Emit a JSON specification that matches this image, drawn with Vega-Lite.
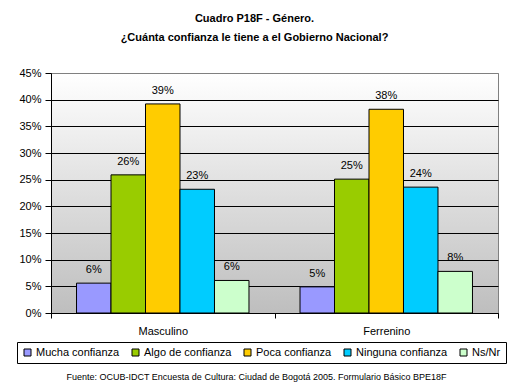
{
  "$schema": "https://vega.github.io/schema/vega-lite/v6.json",
  "width": 447,
  "height": 240,
  "autosize": {"type": "none"},
  "padding": {"left": 51, "top": 73, "right": 17, "bottom": 78},
  "background": "white",
  "title": {
    "text": ["Cuadro P18F - Género.", "¿Cuánta confianza le tiene a el Gobierno Nacional?"],
    "font": "Liberation Sans",
    "fontSize": 11,
    "fontWeight": "bold",
    "color": "black",
    "anchor": "middle",
    "dx": -20,
    "offset": 24,
    "lineHeight": 19
  },
  "data": {
    "values": [
      {"genero": "Masculino", "respuesta": "Mucha confianza", "valor": 0.056},
      {"genero": "Masculino", "respuesta": "Algo de confianza", "valor": 0.259},
      {"genero": "Masculino", "respuesta": "Poca confianza", "valor": 0.392},
      {"genero": "Masculino", "respuesta": "Ninguna confianza", "valor": 0.232},
      {"genero": "Masculino", "respuesta": "Ns/Nr", "valor": 0.061},
      {"genero": "Ferrenino", "respuesta": "Mucha confianza", "valor": 0.049},
      {"genero": "Ferrenino", "respuesta": "Algo de confianza", "valor": 0.251},
      {"genero": "Ferrenino", "respuesta": "Poca confianza", "valor": 0.382},
      {"genero": "Ferrenino", "respuesta": "Ninguna confianza", "valor": 0.236},
      {"genero": "Ferrenino", "respuesta": "Ns/Nr", "valor": 0.078}
    ]
  },
  "encoding": {
    "x": {
      "field": "genero",
      "type": "nominal",
      "sort": ["Masculino", "Ferrenino"],
      "scale": {"paddingInner": 0, "paddingOuter": 0},
      "axis": {
        "labelAngle": 0,
        "labelFont": "Liberation Sans",
        "labelFontSize": 11,
        "labelColor": "black",
        "labelPadding": 7,
        "tickBand": "extent",
        "tickSize": 5,
        "tickColor": "black",
        "domainColor": "black",
        "grid": false,
        "title": "Fuente: OCUB-IDCT Encuesta de Cultura: Ciudad de Bogotá 2005. Formulario Básico BPE18F",
        "titleFont": "Liberation Sans",
        "titleFontSize": 9,
        "titleFontWeight": "normal",
        "titleColor": "black",
        "titleX": 205,
        "titleY": 63,
        "titleAlign": "center",
        "titleBaseline": "middle"
      }
    },
    "xOffset": {
      "field": "respuesta",
      "type": "nominal",
      "sort": ["Mucha confianza", "Algo de confianza", "Poca confianza", "Ninguna confianza", "Ns/Nr"],
      "scale": {"paddingInner": 0, "paddingOuter": 0.74}
    },
    "y": {
      "field": "valor",
      "type": "quantitative",
      "scale": {"domain": [0, 0.45], "nice": false},
      "axis": {
        "title": null,
        "format": ".0%",
        "values": [0, 0.05, 0.1, 0.15, 0.2, 0.25, 0.3, 0.35, 0.4, 0.45],
        "labelFont": "Liberation Sans",
        "labelFontSize": 11,
        "labelColor": "black",
        "labelPadding": 4,
        "tickSize": 6,
        "tickColor": "black",
        "domainColor": "black",
        "grid": true,
        "gridColor": {"condition": {"test": "datum.value >= 0.449", "value": "#808080"}, "value": "black"},
        "gridOpacity": 1,
        "gridWidth": 1
      }
    }
  },
  "layer": [
    {
      "mark": {"type": "bar", "stroke": "black", "strokeWidth": 1},
      "encoding": {
        "color": {
          "field": "respuesta",
          "type": "nominal",
          "sort": ["Mucha confianza", "Algo de confianza", "Poca confianza", "Ninguna confianza", "Ns/Nr"],
          "scale": {
            "domain": ["Mucha confianza", "Algo de confianza", "Poca confianza", "Ninguna confianza", "Ns/Nr"],
            "range": ["#9999FF", "#99CC00", "#FFCC00", "#00CCFF", "#CCFFCC"]
          },
          "legend": {
            "orient": "none",
            "legendX": -34,
            "legendY": 269,
            "direction": "horizontal",
            "columns": 5,
            "title": null,
            "symbolType": "square",
            "symbolSize": 49,
            "symbolStrokeColor": "black",
            "symbolStrokeWidth": 1,
            "symbolOpacity": 1,
            "labelFont": "Liberation Sans",
            "labelFontSize": 11,
            "labelColor": "black",
            "labelOffset": 3,
            "columnPadding": 10,
            "padding": 5,
            "strokeColor": "black",
            "fillColor": "white"
          }
        }
      }
    },
    {
      "mark": {"type": "text", "baseline": "bottom", "dy": -8, "font": "Liberation Sans", "fontSize": 11, "color": "black"},
      "encoding": {
        "text": {"field": "valor", "type": "quantitative", "format": ".0%"}
      }
    }
  ],
  "config": {
    "view": {
      "fill": {
        "gradient": "linear",
        "x1": 0, "y1": 0, "x2": 0, "y2": 1,
        "stops": [{"offset": 0, "color": "#ffffff"}, {"offset": 1, "color": "#bebebe"}]
      },
      "stroke": "#808080"
    }
  }
}
